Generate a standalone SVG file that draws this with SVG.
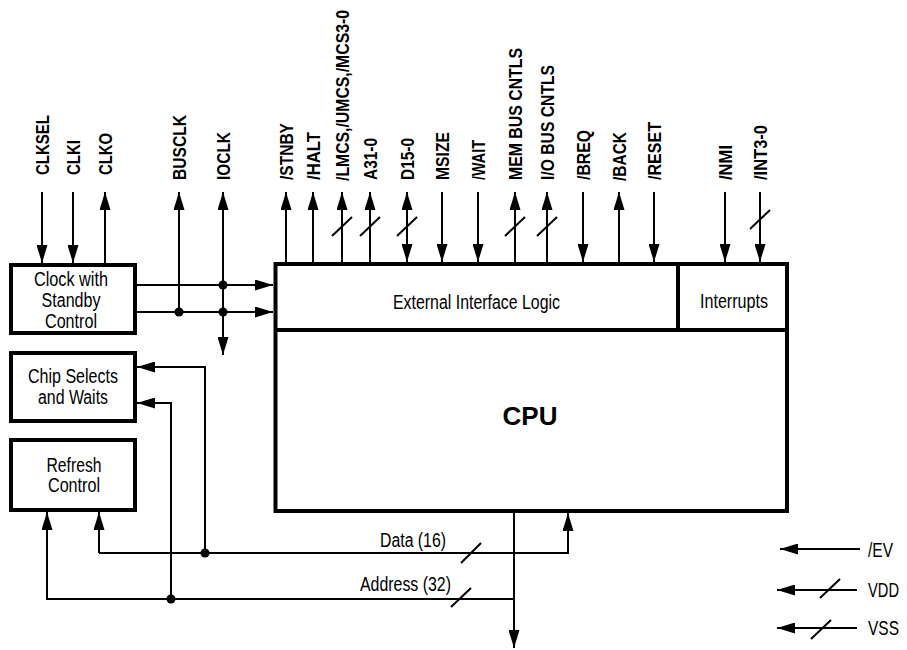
<svg xmlns="http://www.w3.org/2000/svg" width="907" height="650" viewBox="0 0 907 650">
<style>
  .box { fill: #fff; stroke: #000; stroke-width: 4; }
  .div { stroke: #000; stroke-width: 4; fill: none; }
  .ln { stroke: #000; stroke-width: 2; fill: none; }
  .ar { marker-end: url(#ah); }
  .al { marker-start: url(#ah); }
  .dot { fill: #000; }
  text { font-family: "Liberation Sans", Arial, sans-serif; font-size: 20px; fill: #000; }
  .c { text-anchor: middle; }
  .sig { font-weight: bold; font-size: 19px; }
  .cpu { font-size: 26px; font-weight: bold; }
</style>
<defs>
  <marker id="ah" markerUnits="userSpaceOnUse" markerWidth="18" markerHeight="11" viewBox="0 0 18 11" refX="18" refY="5.5" orient="auto-start-reverse">
    <path d="M0,0 L18,5.5 L0,11 z" fill="#000"/>
  </marker>
</defs>
<rect width="907" height="650" fill="#fff"/>

<g id="clock">
  <rect class="box" x="11" y="265" width="124" height="68"/>
  <text class="c" x="71" y="286" textLength="74" lengthAdjust="spacingAndGlyphs">Clock with</text>
  <text class="c" x="71" y="307" textLength="59" lengthAdjust="spacingAndGlyphs">Standby</text>
  <text class="c" x="71" y="328" textLength="52" lengthAdjust="spacingAndGlyphs">Control</text>
</g>
<g id="chipselects">
  <rect class="box" x="11" y="353" width="124" height="68"/>
  <text class="c" x="73" y="383" textLength="90" lengthAdjust="spacingAndGlyphs">Chip Selects</text>
  <text class="c" x="73" y="404" textLength="70" lengthAdjust="spacingAndGlyphs">and Waits</text>
</g>
<g id="refresh">
  <rect class="box" x="11" y="440" width="124" height="70"/>
  <text class="c" x="74" y="472" textLength="55" lengthAdjust="spacingAndGlyphs">Refresh</text>
  <text class="c" x="74" y="492" textLength="52" lengthAdjust="spacingAndGlyphs">Control</text>
</g>
<g id="cpu">
  <rect class="box" x="275.5" y="264" width="511.5" height="247"/>
  <line class="div" x1="275.5" y1="330" x2="787" y2="330"/>
  <line class="div" x1="678" y1="264" x2="678" y2="330"/>
  <text class="c" x="476.5" y="309" textLength="167" lengthAdjust="spacingAndGlyphs">External Interface Logic</text>
  <text class="c" x="734" y="308" textLength="68" lengthAdjust="spacingAndGlyphs">Interrupts</text>
  <text class="c cpu" x="530" y="425">CPU</text>
</g>

<g id="connectors">
  <line class="ln ar" x1="42" y1="192" x2="42" y2="263"/>
  <line class="ln ar" x1="73" y1="192" x2="73" y2="263"/>
  <line class="ln al" x1="105" y1="192" x2="105" y2="263"/>
  <line class="ln al" x1="179" y1="192" x2="179" y2="312"/>
  <line class="ln al ar" x1="223" y1="192" x2="223" y2="355"/>
  <line class="ln ar" x1="137" y1="285" x2="273" y2="285"/>
  <line class="ln ar" x1="137" y1="312" x2="273" y2="312"/>
  <circle class="dot" cx="179" cy="312" r="4.5"/>
  <circle class="dot" cx="223" cy="285" r="4.5"/>
  <circle class="dot" cx="223" cy="312" r="4.5"/>
  <line class="ln al" x1="286" y1="192" x2="286" y2="262"/>
  <line class="ln al" x1="313" y1="192" x2="313" y2="262"/>
  <line class="ln al" x1="342" y1="192" x2="342" y2="262"/>
  <line class="ln" x1="332" y1="236" x2="352" y2="217"/>
  <line class="ln al" x1="370" y1="192" x2="370" y2="262"/>
  <line class="ln" x1="360" y1="236" x2="380" y2="217"/>
  <line class="ln al ar" x1="407" y1="192" x2="407" y2="262"/>
  <line class="ln" x1="397" y1="236" x2="417" y2="217"/>
  <line class="ln ar" x1="442" y1="192" x2="442" y2="262"/>
  <line class="ln ar" x1="478" y1="192" x2="478" y2="262"/>
  <line class="ln al" x1="515" y1="192" x2="515" y2="262"/>
  <line class="ln" x1="505" y1="236" x2="525" y2="217"/>
  <line class="ln al" x1="547" y1="192" x2="547" y2="262"/>
  <line class="ln" x1="537" y1="236" x2="557" y2="217"/>
  <line class="ln ar" x1="583" y1="192" x2="583" y2="262"/>
  <line class="ln al" x1="619" y1="192" x2="619" y2="262"/>
  <line class="ln ar" x1="654" y1="192" x2="654" y2="262"/>
  <line class="ln ar" x1="725" y1="192" x2="725" y2="262"/>
  <line class="ln ar" x1="760" y1="192" x2="760" y2="262"/>
  <line class="ln" x1="750" y1="229" x2="770" y2="210"/>
  <polyline class="ln ar" points="205,553 205,367 137,367"/>
  <polyline class="ln ar" points="171,599 171,403 137,403"/>
  <polyline class="ln ar" points="99,553 99,512"/>
  <polyline class="ln ar" points="99,553 568,553 568,513"/>
  <circle class="dot" cx="205" cy="553" r="4.5"/>
  <line class="ln" x1="461" y1="563" x2="481" y2="543"/>
  <polyline class="ln ar" points="514,599 47,599 47,512"/>
  <circle class="dot" cx="171" cy="599" r="4.5"/>
  <line class="ln" x1="451" y1="607" x2="471" y2="588"/>
  <line class="ln ar" x1="514" y1="513" x2="514" y2="648"/>
  <line class="ln ar" x1="860" y1="549" x2="780" y2="549"/>
  <line class="ln ar" x1="857" y1="590" x2="777" y2="590"/>
  <line class="ln" x1="820" y1="598" x2="840" y2="579"/>
  <line class="ln ar" x1="857" y1="628" x2="777" y2="628"/>
  <line class="ln" x1="811" y1="639" x2="831" y2="620"/>
</g>

<g id="labels">
  <text class="sig" transform="translate(49,175) rotate(-90)" textLength="60" lengthAdjust="spacingAndGlyphs">CLKSEL</text>
  <text class="sig" transform="translate(80,175) rotate(-90)" textLength="35" lengthAdjust="spacingAndGlyphs">CLKI</text>
  <text class="sig" transform="translate(112,175) rotate(-90)" textLength="42" lengthAdjust="spacingAndGlyphs">CLKO</text>
  <text class="sig" transform="translate(186,180) rotate(-90)" textLength="65" lengthAdjust="spacingAndGlyphs">BUSCLK</text>
  <text class="sig" transform="translate(230,180) rotate(-90)" textLength="48" lengthAdjust="spacingAndGlyphs">IOCLK</text>
  <text class="sig" transform="translate(293,180) rotate(-90)" textLength="57" lengthAdjust="spacingAndGlyphs">/STNBY</text>
  <text class="sig" transform="translate(320,180) rotate(-90)" textLength="48" lengthAdjust="spacingAndGlyphs">/HALT</text>
  <text class="sig" transform="translate(349,181) rotate(-90)" textLength="171" lengthAdjust="spacingAndGlyphs">/LMCS,/UMCS,/MCS3-0</text>
  <text class="sig" transform="translate(377,180) rotate(-90)" textLength="42" lengthAdjust="spacingAndGlyphs">A31-0</text>
  <text class="sig" transform="translate(414,180) rotate(-90)" textLength="42" lengthAdjust="spacingAndGlyphs">D15-0</text>
  <text class="sig" transform="translate(449,180) rotate(-90)" textLength="48" lengthAdjust="spacingAndGlyphs">MSIZE</text>
  <text class="sig" transform="translate(485,180) rotate(-90)" textLength="40" lengthAdjust="spacingAndGlyphs">/WAIT</text>
  <text class="sig" transform="translate(522,180) rotate(-90)" textLength="132" lengthAdjust="spacingAndGlyphs">MEM BUS CNTLS</text>
  <text class="sig" transform="translate(554,180) rotate(-90)" textLength="115" lengthAdjust="spacingAndGlyphs">I/O BUS CNTLS</text>
  <text class="sig" transform="translate(590,180) rotate(-90)" textLength="50" lengthAdjust="spacingAndGlyphs">/BREQ</text>
  <text class="sig" transform="translate(626,181) rotate(-90)" textLength="49" lengthAdjust="spacingAndGlyphs">/BACK</text>
  <text class="sig" transform="translate(661,180) rotate(-90)" textLength="58" lengthAdjust="spacingAndGlyphs">/RESET</text>
  <text class="sig" transform="translate(732,180) rotate(-90)" textLength="35" lengthAdjust="spacingAndGlyphs">/NMI</text>
  <text class="sig" transform="translate(767,180) rotate(-90)" textLength="55" lengthAdjust="spacingAndGlyphs">/INT3-0</text>
  <text x="380" y="547" textLength="66" lengthAdjust="spacingAndGlyphs">Data (16)</text>
  <text x="360" y="591" textLength="91" lengthAdjust="spacingAndGlyphs">Address (32)</text>
  <text x="868" y="557" textLength="25" lengthAdjust="spacingAndGlyphs">/EV</text>
  <text x="868" y="597" textLength="31" lengthAdjust="spacingAndGlyphs">VDD</text>
  <text x="868" y="635" textLength="31" lengthAdjust="spacingAndGlyphs">VSS</text>
</g>
</svg>
